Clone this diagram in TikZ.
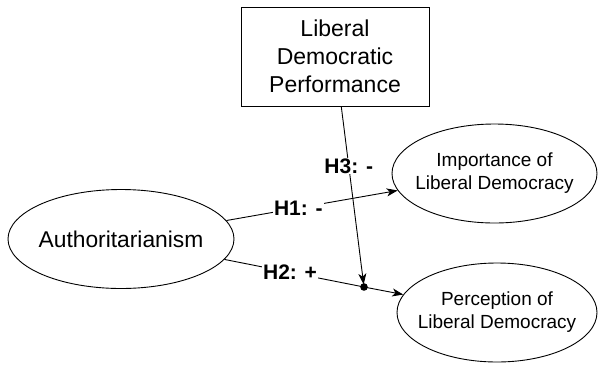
\documentclass[tikz,border=0pt]{standalone}
\usepackage{fontspec}
\setmainfont{Liberation Sans}
\usetikzlibrary{shapes.geometric,arrows.meta}
\begin{document}
\begin{tikzpicture}[x=1pt,y=-1pt,
  lw/.style={line width=0.9pt},
  ell/.style={ellipse,draw,lw,inner sep=0pt},
  txt/.style={align=center,inner sep=0pt},
  lbl/.style={fill=white,inner sep=1pt,font=\fontsize{21}{24}\selectfont\bfseries},
  arr/.style={lw,-{Stealth[length=11pt,width=8pt,inset=3pt]}}]
\useasboundingbox (0,0) rectangle (598,365);
\node[draw,lw,minimum width=188pt,minimum height=99pt,inner sep=0pt,align=center,
  font=\fontsize{23}{28}\selectfont] (ldp) at (335,56.5) {Liberal\\Democratic\\Performance};
\node[ell,minimum width=226pt,minimum height=99pt] (auth) at (121,239) {};
\node[txt,font=\fontsize{22.8}{27}\selectfont] (autht) at (auth.center) {Authoritarianism};
\node[ell,minimum width=205pt,minimum height=99pt] (imp) at (494.5,173.5) {};
\node[txt,font=\fontsize{19}{23}\selectfont] (impt) at (imp.center) {Importance of\\Liberal Democracy};
\node[ell,minimum width=200pt,minimum height=99pt] (per) at (497,312.5) {};
\node[txt,font=\fontsize{19}{23}\selectfont] (pert) at (per.center) {Perception of\\Liberal Democracy};
\coordinate (dot) at (364,287);
\fill (dot) circle (3.8pt);
\draw[arr] (auth) -- node[lbl,pos=0.42] {H1: -} (imp);
\draw[lw] (auth) -- node[lbl,pos=0.47] {H2: +} (dot);
\draw[arr] (dot) -- (per);
\draw[arr,shorten >=2.5pt] (ldp) -- node[lbl,pos=0.33] {H3: -} (dot);
\end{tikzpicture}
\end{document}
